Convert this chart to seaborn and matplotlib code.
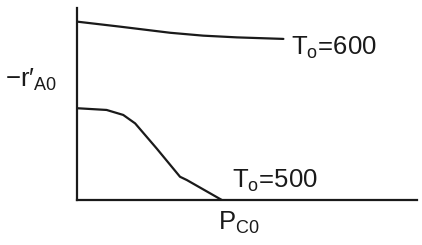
import matplotlib
matplotlib.use("Agg")
import matplotlib.pyplot as plt
import seaborn as sns
import pandas as pd

# Data (arbitrary units)
x_600 = [0.0, 1.26, 2.74, 3.71, 4.70, 6.07]
y_600 = [9.29, 9.03, 8.71, 8.56, 8.47, 8.39]
x_500 = [0.0, 0.87, 1.36, 1.71, 2.34, 3.03, 3.23, 4.26]
y_500 = [4.78, 4.69, 4.43, 3.99, 2.69, 1.21, 1.04, 0.0]
series_labels = ["T$_\\mathregular{o}$=600", "T$_\\mathregular{o}$=500"]
x_label = "P$_\\mathregular{C0}$"
y_label = "\u2212r\u2032$_\\mathregular{A0}$"

sns.set_style("white")
plt.rcParams["font.family"] = ["Liberation Sans", "DejaVu Sans"]
plt.rcParams["mathtext.fontset"] = "custom"
plt.rcParams["mathtext.rm"] = "Liberation Sans"
plt.rcParams["mathtext.it"] = "Liberation Sans"

df = pd.concat([
    pd.DataFrame({"x": x_600, "y": y_600, "s": series_labels[0]}),
    pd.DataFrame({"x": x_500, "y": y_500, "s": series_labels[1]}),
])

fig = plt.figure(figsize=(4.22, 2.45), dpi=100)
ax = fig.add_axes([77 / 422, 45 / 245, 340 / 422, 192 / 245])
sns.lineplot(data=df, x="x", y="y", units="s", estimator=None, color="#1a1a1a",
             linewidth=1.6, ax=ax, sort=False)
ax.set_xlim(0, 10)
ax.set_ylim(0, 10)
ax.set_xticks([])
ax.set_yticks([])
ax.set_xlabel("")
ax.set_ylabel("")
for s in ["top", "right"]:
    ax.spines[s].set_visible(False)
for s in ["left", "bottom"]:
    ax.spines[s].set_color("#1a1a1a")
    ax.spines[s].set_linewidth(1.6)

fs = 18.5
kw = dict(fontsize=fs, va="baseline", ha="left", color="#1a1a1a", clip_on=False)
ax.text(6.3, 7.55, series_labels[0], **kw)
ax.text(4.55, 0.63, series_labels[1], **kw)
ax.text(4.15, -1.56, x_label, **kw)
ax.text(-2.12, 5.89, y_label, **kw)

fig.savefig("out.png", dpi=100, facecolor="white")
